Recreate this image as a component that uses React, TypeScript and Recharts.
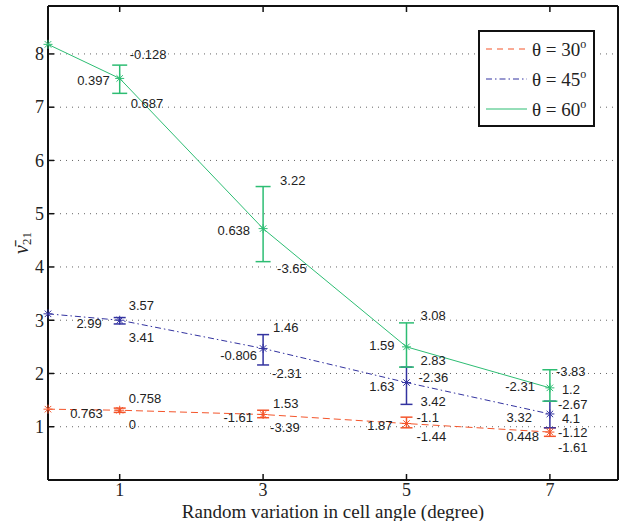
import React from "react";
import {
  CartesianGrid,
  ErrorBar,
  LabelList,
  Legend,
  Line,
  LineChart,
  XAxis,
  YAxis,
} from "recharts";

// random variation in cell angle (degree)
const angles = [0, 1, 3, 5, 7];
// mean nu21 for each cell angle theta
const nu30 = [1.33, 1.31, 1.23, 1.06, 0.9];
const nu45 = [3.12, 3.0, 2.47, 1.83, 1.24];
const nu60 = [8.18, 7.54, 4.72, 2.5, 1.73];
// error bars: [below, above]
const err30 = [null, [0.04, 0.04], [0.06, 0.08], [0.08, 0.12], [0.08, 0.08]];
const err45 = [null, [0.07, 0.05], [0.31, 0.26], [0.41, 0.29], [0.26, 0.24]];
const err60 = [null, [0.28, 0.25], [0.62, 0.79], [0.38, 0.45], [0.25, 0.34]];
// annotations: [upper right, left, lower right]
const notes30 = [null, ["0.758", "0.763", "0"], ["1.53", "-1.61", "-3.39"], ["-1.1", "1.87", "-1.44"], ["-1.12", "0.448", "-1.61"]];
const notes45 = [null, ["3.57", "2.99", "3.41"], ["1.46", "-0.806", "-2.31"], ["-2.36", "1.63", "3.42"], ["-2.67", "3.32", "4.1"]];
const notes60 = [null, ["-0.128", "0.397", "0.687"], ["3.22", "0.638", "-3.65"], ["3.08", "1.59", "2.83"], ["-3.83", "-2.31", "1.2"]];
const xTicks = [1, 3, 5, 7];
const yTicks = [1, 2, 3, 4, 5, 6, 7, 8];
const legendAngles = ["30", "45", "60"];

const C30 = "#f4552b";
const C45 = "#3333a0";
const C60 = "#2dbd73";
const TICK_FONT = "'Liberation Serif', 'Times New Roman', serif";
const NOTE_FONT = "'Liberation Sans', Arial, sans-serif";

// pixel offsets of the annotation texts from their point
const off30 = [null, [[9, -12], [-17, 3], [9, 14]], [[10, -11], [-10, 3], [7, 13]], [[10, -6], [-14, 2], [10, 13]], [[8, 0], [-11, 4], [8, 15]]];
const off45 = [null, [[9, -15], [-18, 3], [9, 17]], [[10, -21], [-6, 7], [9, 25]], [[12, -5], [-12, 4], [14, 19]], [[8, -10], [-18, 3], [12, 4]]];
const off60 = [null, [[10, -24], [-10, 2], [11, 25]], [[17, -48], [-13, 2], [14, 40]], [[14, -31], [-12, -1], [14, 14]], [[6, -16], [-15, -1], [12, 2]]];

const rows = angles.map((a, i) => ({
  angle: a,
  s30: nu30[i],
  s45: nu45[i],
  s60: nu60[i],
  e30: err30[i],
  e45: err45[i],
  e60: err60[i],
}));

const star = (color: string) => (props: any) => {
  const { cx, cy, index } = props;
  if (cx == null || cy == null) return <g key={index} />;
  const r = 4.5;
  const d = r * 0.72;
  return (
    <g key={`st-${index}`} stroke={color} strokeWidth={1}>
      <line x1={cx - r} x2={cx + r} y1={cy} y2={cy} />
      <line x1={cx} x2={cx} y1={cy - r} y2={cy + r} />
      <line x1={cx - d} x2={cx + d} y1={cy - d} y2={cy + d} />
      <line x1={cx - d} x2={cx + d} y1={cy + d} y2={cy - d} />
    </g>
  );
};

const notes = (texts: any[], offs: any[]) => (props: any) => {
  const { x, y, index } = props;
  const t = texts[index];
  const o = offs[index];
  if (!t || x == null) return null;
  return (
    <g fontFamily={NOTE_FONT} fontSize={13} fill="#222">
      <text x={x + o[0][0]} y={y + o[0][1]} dy="0.35em" textAnchor="start">{t[0]}</text>
      <text x={x + o[1][0]} y={y + o[1][1]} dy="0.35em" textAnchor="end">{t[1]}</text>
      <text x={x + o[2][0]} y={y + o[2][1]} dy="0.35em" textAnchor="start">{t[2]}</text>
    </g>
  );
};

const BottomTick = ({ x, y, payload }: any) => (
  <g>
    <line x1={x} x2={x} y1={y} y2={y - 6} stroke="#111" strokeWidth={1.5} />
    <text x={x} y={y + 16} textAnchor="middle" fontFamily={TICK_FONT} fontSize={18} fill="#222">
      {payload.value}
    </text>
  </g>
);
const LeftTick = ({ x, y, payload }: any) => (
  <g>
    <line x1={x} x2={x + 6} y1={y} y2={y} stroke="#111" strokeWidth={1.5} />
    <text x={x - 4} y={y} dy="0.35em" textAnchor="end" fontFamily={TICK_FONT} fontSize={18} fill="#222">
      {payload.value}
    </text>
  </g>
);
const TopTick = ({ x, y }: any) => (
  <line x1={x} x2={x} y1={y} y2={y + 6} stroke="#111" strokeWidth={1.5} />
);
const RightTick = ({ x, y }: any) => (
  <line x1={x} x2={x - 6} y1={y} y2={y} stroke="#111" strokeWidth={1.5} />
);

const YLabel = ({ viewBox }: any) => {
  const cy = viewBox.y + viewBox.height / 2;
  return (
    <text
      transform={`translate(28,${cy}) rotate(-90)`}
      textAnchor="middle"
      fontFamily={TICK_FONT}
      fontSize={20}
      fill="#222"
    >
      <tspan fontStyle="italic">{"\u03bd\u0304"}</tspan>
      <tspan fontSize={13} dy={3}>21</tspan>
    </text>
  );
};

const legendStyles = [
  { color: C30, dash: "6 5" },
  { color: C45, dash: "6 3 1.5 3" },
  { color: C60, dash: undefined },
];

const LegendBox = () => (
  <svg width={117} height={97}>
    <rect x={1} y={1} width={115} height={95} fill="#fff" stroke="#111" strokeWidth={2} />
    {legendAngles.map((a, i) => (
      <g key={a}>
        <line
          x1={8}
          x2={49}
          y1={19 + i * 30}
          y2={19 + i * 30}
          stroke={legendStyles[i].color}
          strokeDasharray={legendStyles[i].dash}
          strokeWidth={1}
        />
        <text x={54} y={19 + i * 30} dy="0.35em" fontFamily={TICK_FONT} fontSize={19} fill="#222">
          {`\u03b8 = ${a}`}
          <tspan fontSize={12} dy={-8}>o</tspan>
        </text>
      </g>
    ))}
  </svg>
);

export default function App() {
  return (
    <div style={{ position: "absolute", left: 0, top: 0, width: 624, height: 521, background: "#fff" }}>
      <LineChart width={624} height={521} data={rows} margin={{ top: 0, right: 0, bottom: 0, left: 0 }}>
        <CartesianGrid vertical={false} stroke="#666" strokeDasharray="1 5" />
        <XAxis
          dataKey="angle"
          type="number"
          domain={[0, 7.95]}
          ticks={xTicks}
          height={41}
          tickSize={0}
          tickMargin={0}
          tickLine={false}
          tick={<BottomTick />}
          axisLine={{ stroke: "#111", strokeWidth: 2 }}
          label={{
            value: "Random variation in cell angle (degree)",
            position: "insideBottom",
            offset: 3,
            fontFamily: TICK_FONT,
            fontSize: 19,
            fill: "#222",
          }}
        />
        <XAxis
          xAxisId="top"
          orientation="top"
          dataKey="angle"
          type="number"
          domain={[0, 7.95]}
          ticks={xTicks}
          height={6}
          tickSize={0}
          tickMargin={0}
          tickLine={false}
          tick={<TopTick />}
          axisLine={{ stroke: "#111", strokeWidth: 2 }}
        />
        <YAxis
          type="number"
          domain={[0, 8.9]}
          ticks={yTicks}
          width={48}
          tickSize={0}
          tickMargin={0}
          tickLine={false}
          tick={<LeftTick />}
          axisLine={{ stroke: "#111", strokeWidth: 2 }}
          label={<YLabel />}
        />
        <YAxis
          yAxisId="right"
          orientation="right"
          type="number"
          domain={[0, 8.9]}
          ticks={yTicks}
          width={6}
          tickSize={0}
          tickMargin={0}
          tickLine={false}
          tick={<RightTick />}
          axisLine={{ stroke: "#111", strokeWidth: 2 }}
        />
        <Legend
          layout="horizontal"
          verticalAlign="middle"
          align="center"
          content={<LegendBox />}
          wrapperStyle={{ position: "absolute", left: 478, top: 30, width: 117, height: 97 }}
        />
        <Line
          dataKey="s30"
          stroke={C30}
          strokeWidth={1}
          strokeDasharray="7 4"
          dot={star(C30)}
          activeDot={false}
          isAnimationActive={false}
        >
          <ErrorBar dataKey="e30" direction="y" width={6} stroke={C30} strokeWidth={1.5} />
          <LabelList dataKey="s30" content={notes(notes30, off30)} />
        </Line>
        <Line
          dataKey="s45"
          stroke={C45}
          strokeWidth={1}
          strokeDasharray="6 3 1.5 3"
          dot={star(C45)}
          activeDot={false}
          isAnimationActive={false}
        >
          <ErrorBar dataKey="e45" direction="y" width={6} stroke={C45} strokeWidth={1.5} />
          <LabelList dataKey="s45" content={notes(notes45, off45)} />
        </Line>
        <Line
          dataKey="s60"
          stroke={C60}
          strokeWidth={1}
          dot={star(C60)}
          activeDot={false}
          isAnimationActive={false}
        >
          <ErrorBar dataKey="e60" direction="y" width={7.5} stroke={C60} strokeWidth={1.5} />
          <LabelList dataKey="s60" content={notes(notes60, off60)} />
        </Line>
      </LineChart>
    </div>
  );
}
